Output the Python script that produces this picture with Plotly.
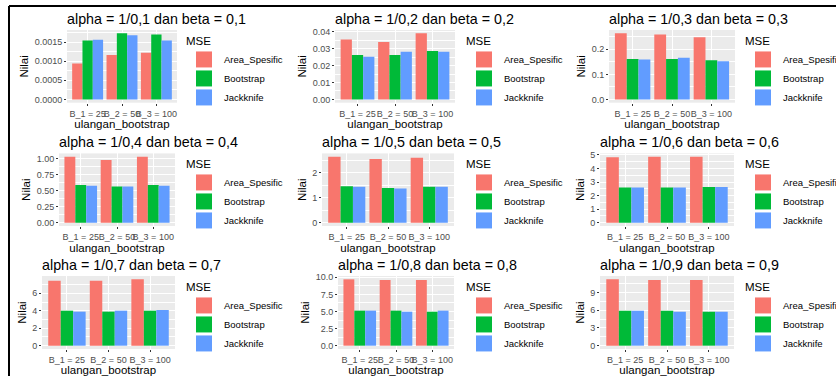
import plotly.graph_objects as go

# ---------------- data ----------------
categories = ["B_1 = 25", "B_2 = 50", "B_3 = 100"]
methods = ["Area_Spesific", "Bootstrap", "Jackknife"]
params = ["0,1", "0,2", "0,3", "0,4", "0,5", "0,6", "0,7", "0,8", "0,9"]

# MSE values per panel (rows = panels alpha/beta 0,1 ... 0,9; cols = categories)
area_spesific = [
    [0.00094, 0.00116, 0.00122],
    [0.0355, 0.0339, 0.0391],
    [0.264, 0.259, 0.248],
    [1.03, 0.98, 1.03],
    [2.645, 2.55, 2.605],
    [4.83, 4.87, 4.87],
    [7.45, 7.45, 7.60],
    [9.70, 9.60, 9.60],
    [11.20, 11.08, 11.08],
]
bootstrap = [
    [0.00154, 0.00173, 0.00170],
    [0.0262, 0.0262, 0.0286],
    [0.161, 0.161, 0.156],
    [0.589, 0.563, 0.589],
    [1.464, 1.395, 1.436],
    [2.60, 2.60, 2.64],
    [4.01, 3.90, 4.01],
    [5.12, 5.12, 4.97],
    [5.90, 5.90, 5.73],
]
jackknife = [
    [0.00156, 0.00168, 0.00154],
    [0.0252, 0.0282, 0.0282],
    [0.159, 0.166, 0.152],
    [0.578, 0.565, 0.578],
    [1.436, 1.370, 1.436],
    [2.60, 2.60, 2.64],
    [3.90, 4.01, 4.09],
    [5.12, 4.97, 5.12],
    [5.90, 5.73, 5.73],
]

ytick_values = [
    [0, 0.0005, 0.0010, 0.0015],
    [0, 0.01, 0.02, 0.03, 0.04],
    [0, 0.1, 0.2],
    [0, 0.25, 0.5, 0.75, 1.0],
    [0, 1, 2],
    [0, 1, 2, 3, 4, 5],
    [0, 2, 4, 6],
    [0, 2.5, 5.0, 7.5, 10.0],
    [0, 3, 6, 9],
]
ytick_labels = [
    ["0.0000", "0.0005", "0.0010", "0.0015"],
    ["0.00", "0.01", "0.02", "0.03", "0.04"],
    ["0.0", "0.1", "0.2"],
    ["0.00", "0.25", "0.50", "0.75", "1.00"],
    ["0", "1", "2"],
    ["0", "1", "2", "3", "4", "5"],
    ["0", "2", "4", "6"],
    ["0.0", "2.5", "5.0", "7.5", "10.0"],
    ["0", "3", "6", "9"],
]

# ---------------- styling / layout ----------------
W, H = 836, 376
colors = ["#F8766D", "#00BA38", "#619CFF"]
FONT = "Liberation Sans, Arial, Helvetica, sans-serif"

# panel pixel boxes (left, right, top, bottom)
panels = [
    (67, 177, 30, 102.7), (335, 455, 30, 102.7), (609, 735, 30, 102.7),
    (59, 175, 153.4, 226), (322, 454, 153.4, 226), (600, 734, 153.4, 226),
    (42, 175, 276, 349), (338, 454, 276, 349), (600, 734, 276, 349),
]
title_y = [19, 141.7, 265]
legend_x = [184, 464, 743]
legend_top = [30, 153, 276]

series = [area_spesific, bootstrap, jackknife]

fig = go.Figure()
layout = dict(
    width=W, height=H,
    margin=dict(l=0, r=0, t=0, b=0, autoexpand=False),
    paper_bgcolor="white",
    plot_bgcolor="#EBEBEB",
    barmode="group",
    bargap=0.1,
    bargroupgap=0,
    font=dict(family=FONT, color="black"),
    annotations=[],
    shapes=[],
)

for i in range(9):
    n = "" if i == 0 else str(i + 1)
    xa, ya = "x" + n, "y" + n
    lg = "legend" + n
    for j, m in enumerate(methods):
        fig.add_trace(go.Bar(
            x=categories, y=series[j][i], name=m,
            marker=dict(color=colors[j], line=dict(width=0)),
            xaxis=xa, yaxis=ya, showlegend=False, legend=lg,
        ))
    for j, m in enumerate(methods):
        fig.add_trace(go.Scatter(
            x=[None], y=[None], name=m, mode="markers",
            marker=dict(symbol="square", size=16, color=colors[j], line=dict(width=0)),
            xaxis=xa, yaxis=ya, showlegend=True, legend=lg, hoverinfo="skip",
        ))

    l, r, t, b = panels[i]
    vmax = max(max(s[i]) for s in series)
    ticks = ytick_values[i]
    step = ticks[1] - ticks[0]

    layout["xaxis" + n] = dict(
        domain=[l / W, r / W], anchor=ya, type="category",
        categoryorder="array", categoryarray=categories,
        range=[-0.6, 2.6], showgrid=True, gridcolor="white", gridwidth=1,
        ticks="outside", ticklen=2, tickwidth=1, tickcolor="#333333",
        tickfont=dict(size=9, color="#4D4D4D"), tickangle=0,
        zeroline=False, showline=False, fixedrange=True,
        title=dict(text="ulangan_bootstrap", font=dict(size=11.5, color="black"), standoff=0),
    )
    layout["yaxis" + n] = dict(
        domain=[1 - b / H, 1 - t / H], anchor=xa,
        range=[-0.05 * vmax, 1.05 * vmax],
        tickmode="array", tickvals=ticks, ticktext=ytick_labels[i],
        showgrid=True, gridcolor="white", gridwidth=1,
        minor=dict(tick0=0, dtick=step / 2, showgrid=True, gridcolor="white", gridwidth=0.5, ticks=""),
        ticks="outside", ticklen=2, tickwidth=1, tickcolor="#333333",
        tickfont=dict(size=9, color="#4D4D4D"),
        zeroline=False, showline=False, fixedrange=True,
        title=dict(text="Nilai", font=dict(size=11.5, color="black"), standoff=3),
    )
    row, col = divmod(i, 3)
    layout[lg] = dict(
        x=legend_x[col] / W, y=1 - legend_top[row] / H,
        xanchor="left", yanchor="top", xref="paper", yref="paper",
        bgcolor="rgba(0,0,0,0)", borderwidth=0,
        font=dict(size=9.5, color="black", family=FONT),
        title=dict(text="MSE", font=dict(size=11.5, color="black", family=FONT)),
        itemsizing="trace", tracegroupgap=0,
    )
    layout["annotations"].append(dict(
        text=f"alpha = 1/{params[i]} dan beta = {params[i]}",
        x=(l - 2) / W, y=1 - title_y[row] / H, xref="paper", yref="paper",
        xanchor="left", yanchor="middle", showarrow=False,
        font=dict(size=14.3, color="black", family=FONT),
    ))

# outer frame lines (left and top)
layout["shapes"] = [
    dict(type="line", xref="paper", yref="paper", x0=9 / W, x1=9 / W, y0=0, y1=1 - 6 / H,
         line=dict(color="black", width=2)),
    dict(type="line", xref="paper", yref="paper", x0=9 / W, x1=1, y0=1 - 6 / H, y1=1 - 6 / H,
         line=dict(color="black", width=2)),
]

fig.update_layout(**layout)
fig.write_html(
    "out.html",
    config={"displayModeBar": False},
    post_script="document.body.style.margin='0';document.body.style.padding='0';",
)
